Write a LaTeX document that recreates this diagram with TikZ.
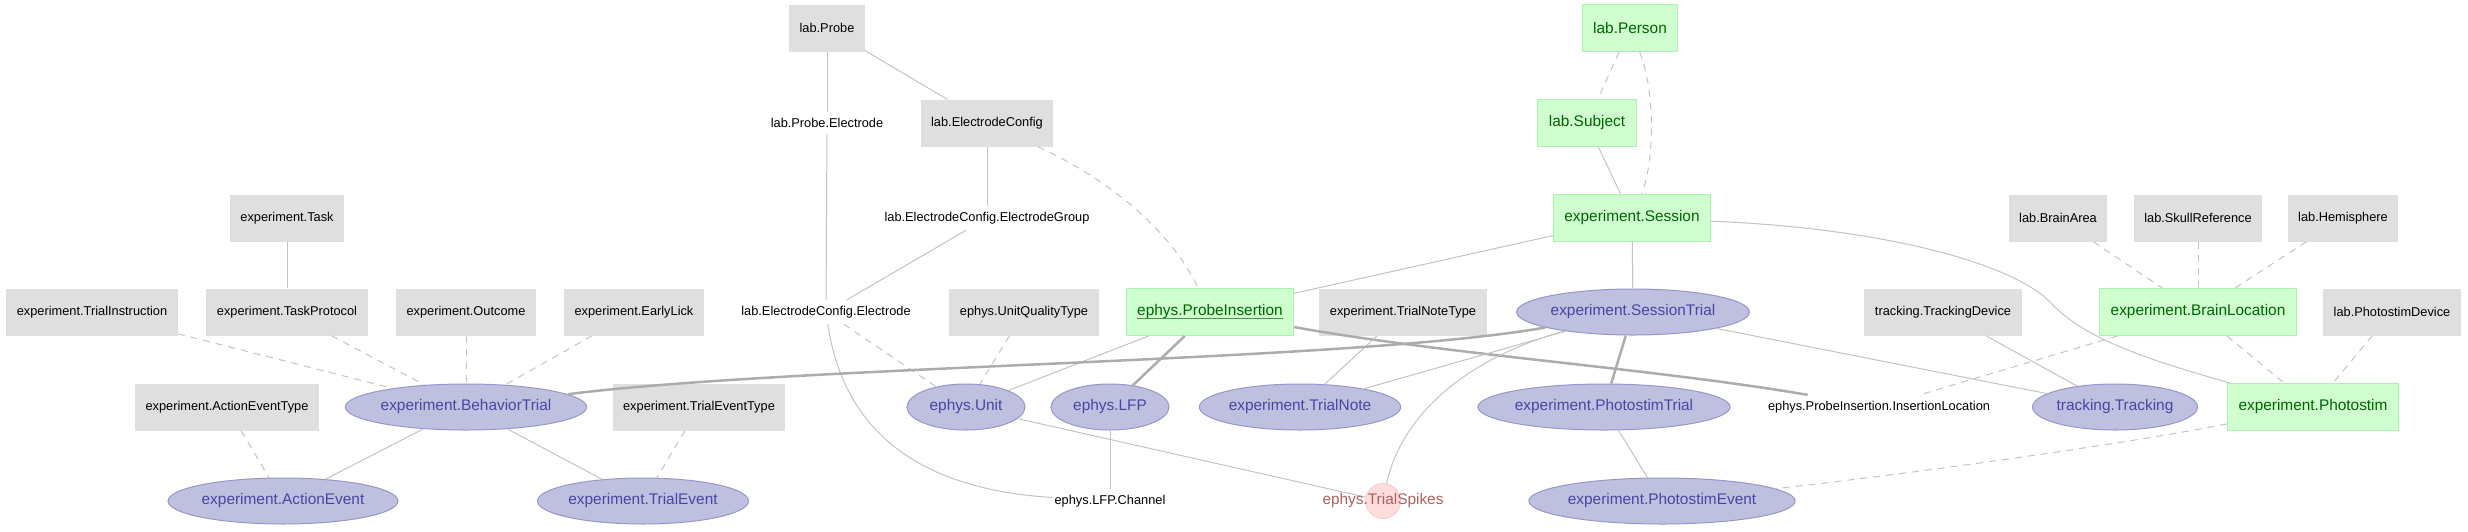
\documentclass[tikz,border=0pt]{standalone}
\usepackage{fontspec}
\setmainfont{Liberation Sans}
\usepackage{xcolor}
\usetikzlibrary{shapes.geometric, math}
\definecolor{lookupfill}{RGB}{223,223,223}
\definecolor{manualfill}{RGB}{207,255,207}
\definecolor{manualline}{RGB}{172,242,172}
\definecolor{manualtext}{RGB}{0,100,0}
\definecolor{importfill}{RGB}{191,191,223}
\definecolor{importline}{RGB}{150,150,204}
\definecolor{importtext}{RGB}{71,71,163}
\definecolor{computefill}{RGB}{255,221,221}
\definecolor{computeline}{RGB}{255,200,200}
\definecolor{computetext}{RGB}{175,95,95}
\definecolor{edgegray}{RGB}{195,195,195}
\definecolor{edgedark}{RGB}{172,172,172}

\begin{document}
\begin{tikzpicture}[x=1pt, y=-1pt,
  lookup/.style={rectangle, fill=lookupfill, minimum height=47pt, minimum width=60pt, inner xsep=10.5pt, font=\fontsize{12.8}{15}\selectfont},
  manual/.style={rectangle, fill=manualfill, draw=manualline, line width=1pt, minimum height=47pt, inner xsep=11pt, text=manualtext, font=\fontsize{15.4}{18}\selectfont},
  imported/.style={ellipse, fill=importfill, draw=importline, line width=1pt, minimum height=46pt, minimum width=118pt, inner xsep=0pt, text=importtext, font=\fontsize{15.4}{18}\selectfont},
  computed/.style={circle, fill=computefill, draw=computeline, line width=0.8pt, minimum size=35pt, inner sep=0pt},
  part/.style={inner xsep=2pt, inner ysep=6pt, font=\fontsize{12.8}{15}\selectfont},
  link/.style={edgegray, line width=1pt},
  optlink/.style={link, dash pattern=on 7pt off 6pt},
  keylink/.style={edgedark, line width=2.5pt}]
\tikzmath{
\rowa=28; \rowb=123; \rowc=218; \rowd=312; \rowe=407; \rowf=501;
}
\useasboundingbox (0,0) rectangle (2468,531);

\node[lookup] (probe) at (827,\rowa) {lab.Probe};
\node[manual] (person) at (1630,\rowa) {lab.Person};

\node[part] (probeelectrode) at (827,\rowb) {lab.Probe.Electrode};
\node[lookup] (electrodeconfig) at (987,\rowb) {lab.ElectrodeConfig};
\node[manual] (subject) at (1587,\rowb) {lab.Subject};

\node[lookup] (task) at (287,\rowc) {experiment.Task};
\node[part] (electrodegroup) at (987,\rowc) {lab.ElectrodeConfig.ElectrodeGroup};
\node[manual] (session) at (1632,\rowc) {experiment.Session};
\node[lookup] (brainarea) at (2058,\rowc) {lab.BrainArea};
\node[lookup] (skullreference) at (2198,\rowc) {lab.SkullReference};
\node[lookup] (hemisphere) at (2343,\rowc) {lab.Hemisphere};

\node[lookup] (trialinstruction) at (92,\rowd) {experiment.TrialInstruction};
\node[lookup] (taskprotocol) at (287,\rowd) {experiment.TaskProtocol};
\node[lookup] (outcome) at (466,\rowd) {experiment.Outcome};
\node[lookup] (earlylick) at (634,\rowd) {experiment.EarlyLick};
\node[part] (electrode) at (826,\rowd) {lab.ElectrodeConfig.Electrode};
\node[lookup] (unitqualitytype) at (1024,\rowd) {ephys.UnitQualityType};
\node[manual] (probeinsertion) at (1210,\rowd) {ephys.ProbeInsertion};
\draw[manualtext!70, line width=1.4pt] ([xshift=11pt, yshift=-2.5pt]probeinsertion.base west) -- ([xshift=-11pt, yshift=-2.5pt]probeinsertion.base east);
\node[lookup] (trialnotetype) at (1403,\rowd) {experiment.TrialNoteType};
\node[imported] (sessiontrial) at (1633,\rowd) {experiment.SessionTrial};
\node[lookup] (trackingdevice) at (1943,\rowd) {tracking.TrackingDevice};
\node[manual] (brainlocation) at (2198,\rowd) {experiment.BrainLocation};
\node[lookup] (photostimdevice) at (2392,\rowd) {lab.PhotostimDevice};

\node[lookup] (actioneventtype) at (227,\rowe) {experiment.ActionEventType};
\node[imported] (behaviortrial) at (466,\rowe) {experiment.BehaviorTrial};
\node[lookup] (trialeventtype) at (699,\rowe) {experiment.TrialEventType};
\node[imported] (unit) at (966,\rowe) {ephys.Unit};
\node[imported] (lfp) at (1110,\rowe) {ephys.LFP};
\node[imported] (trialnote) at (1300,\rowe) {experiment.TrialNote};
\node[imported] (photostimtrial) at (1604,\rowe) {experiment.PhotostimTrial};
\node[part] (insertionlocation) at (1879,\rowe) {ephys.ProbeInsertion.InsertionLocation};
\node[imported] (tracking) at (2115,\rowe) {tracking.Tracking};
\node[manual] (photostim) at (2313,\rowe) {experiment.Photostim};

\node[imported] (actionevent) at (283,\rowf) {experiment.ActionEvent};
\node[imported] (trialevent) at (643,\rowf) {experiment.TrialEvent};
\node[part] (lfpchannel) at (1110,\rowf) {ephys.LFP.Channel};
\node[computed] (trialspikes) at (1383,\rowf) {};
\node[imported] (photostimevent) at (1662,\rowf) {experiment.PhotostimEvent};

\draw[link] (probe) -- (probeelectrode);
\draw[link] (probe) -- (electrodeconfig);
\draw[link] (probeelectrode) -- (electrode);
\draw[link] (electrodeconfig) -- (electrodegroup);
\draw[link] (electrodegroup) -- (electrode);
\draw[optlink] (electrodeconfig) .. controls (1110,180) and (1170,230) .. (probeinsertion);
\draw[optlink] (electrode) -- (unit);
\draw[link] (electrode) .. controls (845,440) and (930,490) .. (lfpchannel);
\draw[optlink] (unitqualitytype) -- (unit);
\draw[link] (probeinsertion) -- (unit);
\draw[keylink] (probeinsertion) -- (lfp);
\draw[keylink] (probeinsertion) .. controls (1450,355) and (1650,368) .. (insertionlocation);
\draw[link] (session) -- (probeinsertion);
\draw[link] (lfp) -- (lfpchannel);
\draw[link] (unit) -- (trialspikes);
\draw[link] (sessiontrial) .. controls (1460,360) and (1400,420) .. (trialspikes);
\draw[link] (trialnotetype) -- (trialnote);
\draw[link] (sessiontrial) -- (trialnote);
\draw[keylink] (behaviortrial) .. controls (800,365) and (1350,362) .. (sessiontrial);
\draw[keylink] (sessiontrial) -- (photostimtrial);
\draw[link] (sessiontrial) -- (tracking);
\draw[link] (session) -- (sessiontrial);
\draw[link] (session) .. controls (1880,228) and (2010,262) .. (2050,302) .. controls (2085,340) and (2150,360) .. (photostim);
\draw[optlink] (person) -- (subject);
\draw[optlink] (person) .. controls (1655,90) and (1655,160) .. (session);
\draw[link] (subject) -- (session);
\draw[optlink] (brainarea) -- (brainlocation);
\draw[optlink] (skullreference) -- (brainlocation);
\draw[optlink] (hemisphere) -- (brainlocation);
\draw[optlink] (brainlocation) -- (photostim);
\draw[optlink] (brainlocation) -- (insertionlocation);
\draw[optlink] (photostimdevice) -- (photostim);
\draw[link] (trackingdevice) -- (tracking);
\draw[link] (photostimtrial) -- (photostimevent);
\draw[optlink] (photostim) .. controls (2120,445) and (1900,475) .. (photostimevent);
\draw[link] (task) -- (taskprotocol);
\draw[optlink] (trialinstruction) -- (behaviortrial);
\draw[optlink] (taskprotocol) -- (behaviortrial);
\draw[optlink] (outcome) -- (behaviortrial);
\draw[optlink] (earlylick) -- (behaviortrial);
\draw[optlink] (actioneventtype) -- (actionevent);
\draw[link] (behaviortrial) -- (actionevent);
\draw[link] (behaviortrial) -- (trialevent);
\draw[optlink] (trialeventtype) -- (trialevent);

\node[text=computetext, font=\fontsize{15.4}{18}\selectfont] (trialspikeslabel) at (trialspikes) {ephys.TrialSpikes};
\end{tikzpicture}
\end{document}
